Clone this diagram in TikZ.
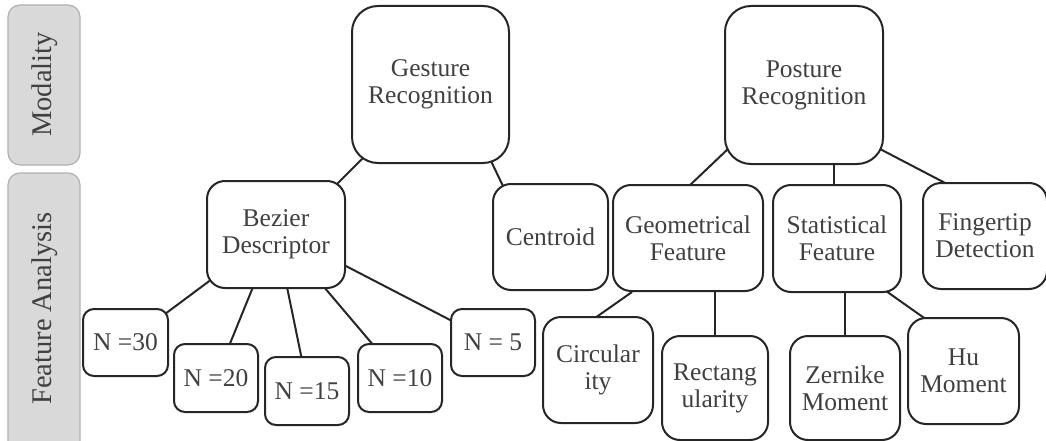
\documentclass[tikz,border=0pt]{standalone}
\usepackage{fontspec}
\setmainfont{Liberation Serif}
\usetikzlibrary{backgrounds,calc}
\definecolor{txt}{HTML}{404040}
\definecolor{edge}{HTML}{262626}
\definecolor{sidefill}{HTML}{D9D9D9}
\definecolor{sideline}{HTML}{B0B0B0}
\begin{document}
\begin{tikzpicture}[x=1pt,y=-1pt,
  box/.style={draw=edge, line width=2pt, fill=white, text=txt, align=center,
    font=\fontsize{25.5}{27}\selectfont, inner sep=0pt},
  sidebox/.style={draw=sideline, line width=1.2pt, fill=sidefill, inner sep=0pt},
  sidetext/.style={text=txt, font=\fontsize{28.5}{30}\selectfont, inner sep=0pt},
  conn/.style={draw=edge, line width=2pt}]
\useasboundingbox (0,0) rectangle (1046,441);
\clip (0,0) rectangle (1046,441);
% side panels
\node[sidebox, rotate=90, minimum width=160, minimum height=72, rounded corners=12] (modal) at (44,85) {};
\node[sidetext, rotate=90] (modalt) at (45,84.5) {Modality};
\node[sidebox, rotate=90, minimum width=297, minimum height=72, rounded corners=12] (feat) at (44,321.5) {};
\node[sidetext, rotate=90] (featt) at (45,308.5) {Feature Analysis};
% main nodes
\node[box, minimum width=157, minimum height=157, rounded corners=26] (gest) at (430.5,84.5) {Gesture\\Recognition};
\node[box, minimum width=158, minimum height=158, rounded corners=26] (post) at (804,85) {Posture\\Recognition};
\node[box, minimum width=138, minimum height=107, rounded corners=18] (bez) at (276,234.5) {Bezier\\Descriptor};
\node[box, minimum width=115, minimum height=106, rounded corners=18] (cent) at (550.5,237) {Centroid};
\node[box, minimum width=150, minimum height=106, rounded corners=18] (geom) at (688,238) {Geometrical\\Feature};
\node[box, minimum width=128, minimum height=107, rounded corners=18] (stat) at (837,238.5) {Statistical\\Feature};
\node[box, minimum width=124, minimum height=106, rounded corners=18] (fing) at (985,236) {Fingertip\\Detection};
\node[box, minimum width=85, minimum height=67, rounded corners=11] (n30) at (125.5,342.5) {N =30};
\node[box, minimum width=84, minimum height=68, rounded corners=11] (n20) at (216,378) {N =20};
\node[box, minimum width=84, minimum height=68, rounded corners=11] (n15) at (307,391) {N =15};
\node[box, minimum width=84, minimum height=68, rounded corners=11] (n10) at (400,378) {N =10};
\node[box, minimum width=84, minimum height=67, rounded corners=11] (n5) at (493,342.5) {N = 5};
\node[box, minimum width=110, minimum height=106, rounded corners=18] (circ) at (598,370) {Circular\\ity};
\node[box, minimum width=106, minimum height=104, rounded corners=18] (rect) at (715,388) {Rectang\\ularity};
\node[box, minimum width=110, minimum height=104, rounded corners=18] (zern) at (845,388) {Zernike\\Moment};
\node[box, minimum width=111, minimum height=106, rounded corners=18] (hu) at (963.5,371) {Hu\\Moment};
% connectors
\begin{scope}[on background layer]
\draw[conn] ($(gest.south west)+(13,-7)$) -- ($(bez.north east)+(-10,5)$);
\draw[conn] ($(gest.south east)+(-20,-5)$) -- ($(cent.north west)+(11,3)$);
\draw[conn] ($(bez.south west)+(6,-10)$) -- ($(n30.north east)+(-4,6)$);
\draw[conn] ($(bez.south)+(-23,-2)$) -- ($(n20.north)+(13,3)$);
\draw[conn] ($(bez.south)+(11,-2)$) -- ($(n15.north)+(-5,4)$);
\draw[conn] ($(bez.south east)+(-22,-2)$) -- ($(n10.north)+(-26,3)$);
\draw[conn] ($(bez.east)+(-4,29.5)$) -- ($(n5.west)+(4,-20.5)$);
\draw[conn] ($(post.south west)+(5,-17)$) -- ($(geom.north)+(0,3)$);
\draw[conn] ($(post.south)+(30,-3)$) -- ($(stat.north)+(-3,3)$);
\draw[conn] ($(post.south east)+(-4,-16)$) -- ($(fing.north west)+(27,3)$);
\draw[conn] ($(geom.south)+(-56,0)$) -- ($(circ.north)+(-3,2)$);
\draw[conn] ($(geom.south)+(27,-3)$) -- ($(rect.north)+(0,3)$);
\draw[conn] ($(stat.south)+(8,-3)$) -- ($(zern.north)+(0,3)$);
\draw[conn] ($(stat.south east)+(-16,-2)$) -- ($(hu.north west)+(20,3)$);
\end{scope}
\end{tikzpicture}
\end{document}
